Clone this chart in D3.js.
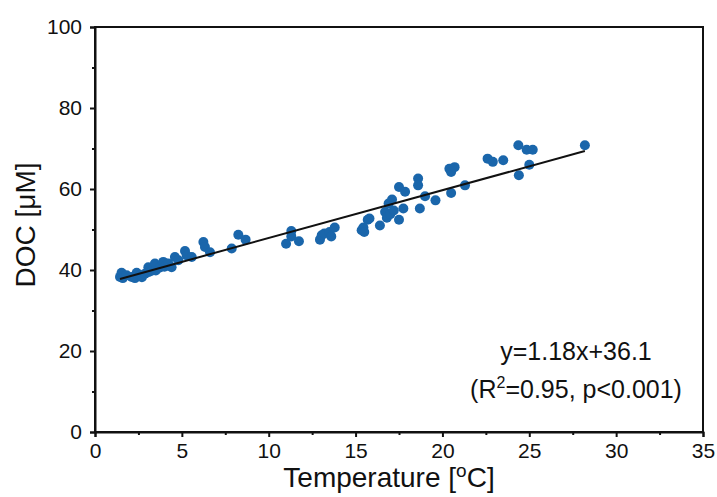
<!DOCTYPE html>
<html>
<head>
<meta charset="utf-8">
<script src="https://cdn.jsdelivr.net/npm/d3@7"></script>
<style>
  body { margin: 0; background: white; }
  text { font-family: "Liberation Sans", Arial, sans-serif; fill: #111; }
</style>
</head>
<body>
<div id="chart"></div>
<script>
const temperature = [1.44, 1.53, 1.6, 1.82, 2.11, 2.3, 2.4, 2.59, 2.7, 2.88, 3.07, 3.1, 3.26, 3.45, 3.5,
    3.74, 3.93, 4.0, 4.22, 4.41, 4.6, 4.8, 5.18, 5.28, 5.57, 6.24, 6.33, 6.62, 7.87, 8.25, 8.67,
    11.0, 11.3, 11.3, 11.74, 12.95, 13.05, 13.2, 13.5, 13.6, 13.8, 15.35, 15.45, 15.5, 15.7, 15.8,
    16.4, 16.7, 16.8, 16.9, 17.0, 17.1, 17.2, 17.5, 17.5, 17.75, 17.85, 18.6, 18.6, 18.7, 19.0,
    19.6, 20.4, 20.5, 20.5, 20.7, 21.3, 22.6, 22.9, 23.5, 24.37, 24.4, 24.85, 25.0, 25.2, 28.2];
const doc = [38.3, 39.3, 38.0, 38.7, 38.3, 38.0, 39.3, 38.7, 38.2, 39.1, 40.7, 39.5, 39.8, 41.6, 39.9,
    40.6, 42.0, 40.8, 41.6, 40.7, 43.2, 42.4, 44.7, 43.6, 43.2, 46.9, 45.7, 44.4, 45.3, 48.7, 47.5,
    46.5, 49.6, 48.3, 47.1, 47.5, 48.6, 49.0, 49.4, 48.3, 50.5, 49.8, 50.5, 49.4, 52.4, 52.7,
    51.0, 54.3, 52.9, 56.4, 53.8, 57.4, 54.7, 52.4, 60.5, 55.2, 59.3, 62.6, 60.9, 55.2, 58.2,
    57.2, 65.0, 64.2, 59.0, 65.4, 60.9, 67.5, 66.7, 67.1, 70.8, 63.4, 69.7, 66.0, 69.7, 70.8];

// linear fit y = slope * x + intercept
const slope = 1.18;
const intercept = 36.1;

const xTicks = [0, 5, 10, 15, 20, 25, 30, 35];
const yTicks = [0, 20, 40, 60, 80, 100];
const xMinorTicks = [2.5, 7.5, 12.5, 17.5, 22.5, 27.5, 32.5];
const yMinorTicks = [10, 30, 50, 70, 90];

const width = 717;
const height = 497;
const margin = {top: 27, right: 14, bottom: 65, left: 95};

var svg = d3.select("#chart")
    .append("svg")
    .attr("width", width)
    .attr("height", height);

var xScale = d3.scaleLinear()
    .domain([0, 35])
    .range([margin.left, width - margin.right]);

var yScale = d3.scaleLinear()
    .domain([0, 100])
    .range([height - margin.bottom, margin.top]);

// frame
svg.append("rect")
    .attr("x", xScale(0))
    .attr("y", yScale(100))
    .attr("width", xScale(35) - xScale(0))
    .attr("height", yScale(0) - yScale(100))
    .style("fill", "none")
    .style("stroke", "#111")
    .style("stroke-width", 2);

// axes
svg.append("g")
    .attr("transform", "translate(0," + yScale(0) + ")")
    .call(d3.axisBottom(xScale).tickValues(xTicks).tickSize(5).tickPadding(6).tickFormat(d3.format("d")));

svg.append("g")
    .attr("transform", "translate(0," + yScale(0) + ")")
    .call(d3.axisBottom(xScale).tickValues(xMinorTicks).tickSize(3).tickFormat(""))
    .call(g => g.select(".domain").remove());

svg.append("g")
    .attr("transform", "translate(" + xScale(0) + ",0)")
    .call(d3.axisLeft(yScale).tickValues(yTicks).tickSize(5).tickPadding(8).tickFormat(d3.format("d")));

svg.append("g")
    .attr("transform", "translate(" + xScale(0) + ",0)")
    .call(d3.axisLeft(yScale).tickValues(yMinorTicks).tickSize(3).tickFormat(""))
    .call(g => g.select(".domain").remove());

svg.selectAll(".domain").style("stroke", "#111").style("stroke-width", 2);
svg.selectAll(".tick line").style("stroke", "#111").style("stroke-width", 2);
svg.selectAll(".tick text")
    .attr("font-size", 21)
    .attr("font-family", "Liberation Sans, Arial, sans-serif")
    .style("fill", "#111");

// points
svg.append("g")
    .selectAll("circle")
    .data(temperature.map((t, i) => [t, doc[i]]))
    .enter()
    .append("circle")
    .attr("cx", d => xScale(d[0]))
    .attr("cy", d => yScale(d[1]))
    .attr("r", 5)
    .style("fill", "#1a66ab");

// regression line
var xMin = d3.min(temperature);
var xMax = d3.max(temperature);
svg.append("line")
    .attr("x1", xScale(xMin))
    .attr("y1", yScale(slope * xMin + intercept))
    .attr("x2", xScale(xMax))
    .attr("y2", yScale(slope * xMax + intercept))
    .style("stroke", "#111")
    .style("stroke-width", 2);

// axis titles
var xTitle = svg.append("text")
    .attr("x", 389)
    .attr("y", 487)
    .attr("text-anchor", "middle")
    .attr("font-size", 28);
xTitle.append("tspan").text("Temperature [");
xTitle.append("tspan").attr("font-size", 19).attr("dy", -10).text("o");
xTitle.append("tspan").attr("dy", 10).text("C]");

svg.append("text")
    .attr("transform", "translate(35," + 225 + ") rotate(-90)")
    .attr("text-anchor", "middle")
    .attr("font-size", 28)
    .text("DOC [μM]");

// fit annotation
svg.append("text")
    .attr("x", 576)
    .attr("y", 360)
    .attr("text-anchor", "middle")
    .attr("font-size", 25)
    .text("y=" + slope + "x+" + intercept);

var stats = svg.append("text")
    .attr("x", 576)
    .attr("y", 398)
    .attr("text-anchor", "middle")
    .attr("font-size", 25);
stats.append("tspan").text("(R");
stats.append("tspan").attr("font-size", 16).attr("dy", -10).text("2");
stats.append("tspan").attr("dy", 10).text("=0.95, p<0.001)");
</script>
</body>
</html>
